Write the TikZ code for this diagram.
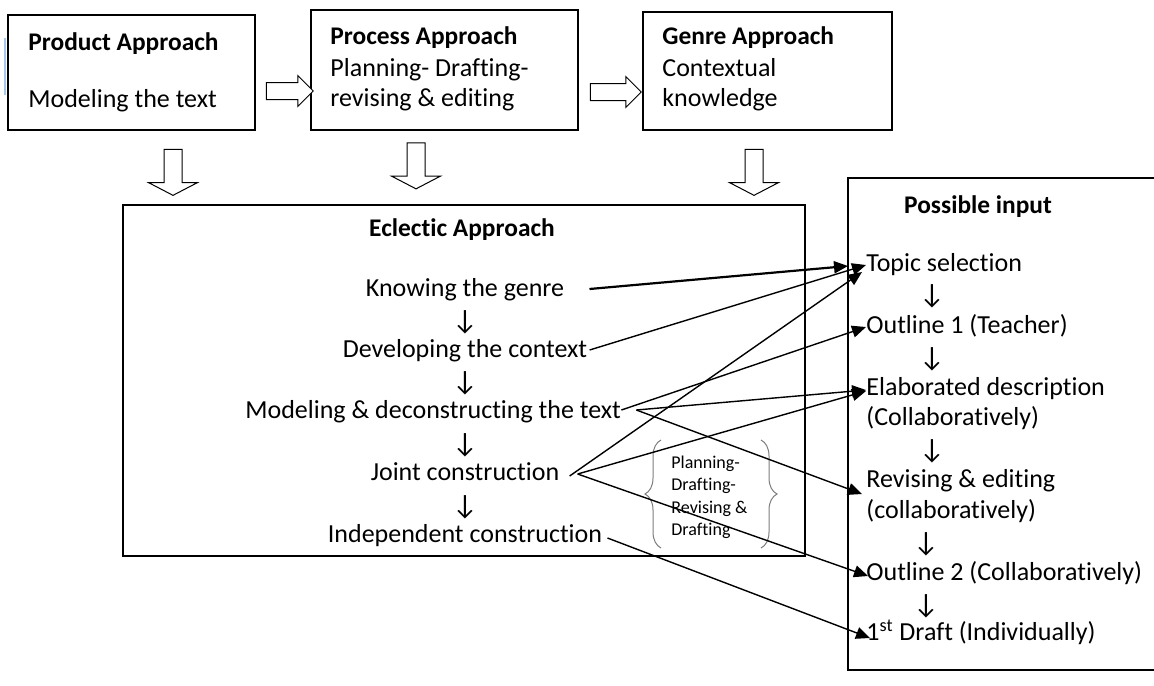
\documentclass[tikz,border=0pt]{standalone}
\usepackage{fontspec}
\setmainfont{Carlito}[Ligatures=CommonOff]
\usepackage{tikz}
\usetikzlibrary{arrows.meta,shapes.arrows,decorations.pathreplacing}
\definecolor{BraceGray}{RGB}{125,125,125}
\definecolor{MarkBlue}{RGB}{165,200,235}

\begin{document}
\begin{tikzpicture}[x=0.5pt,y=-0.5pt,>=Triangle,
  box/.style={draw,line width=0.6pt,inner sep=0pt},
  txt/.style={inner sep=0pt,anchor=base west,font=\fontsize{13}{15}\selectfont},
  ttl/.style={txt,font=\bfseries\fontsize{12.7}{14}\selectfont},
  small/.style={txt,font=\fontsize{9}{11}\selectfont},
  dn/.style={inner sep=0pt,font=\fontsize{14}{15}\selectfont},
  blk/.style={single arrow,draw,fill=white,line width=0.5pt,inner xsep=0pt},
  rightblk/.style={blk,inner ysep=4pt,minimum width=15pt,single arrow head extend=3.5pt},
  downblk/.style={blk,rotate=-90,inner ysep=4.25pt,minimum height=23pt,
    minimum width=24pt,single arrow head extend=7.75pt,single arrow tip angle=125},
  link/.style={-{Triangle[length=7pt,width=6pt]},line width=0.7pt},
  brc/.style={BraceGray,line width=0.5pt,decorate,decoration={brace,amplitude=8pt}}]
  \useasboundingbox (0,0) rectangle (1154,685);

  % three approaches on top
  \node[box,minimum width=123.5pt,minimum height=57.5pt] (prodbox) at (131.5,72.5) {};
  \node[box,minimum width=133.5pt,minimum height=60pt] (procbox) at (444.5,70) {};
  \node[box,minimum width=124.5pt,minimum height=59pt] (genrebox) at (767.5,71) {};
  \draw[MarkBlue,line width=1pt] (5,38) -- (5,95);

  \node[ttl] (prodtitle) at (28,50) {Product Approach};
  \node[txt] (prodtext) at (28,107) {Modeling the text};
  \node[ttl] (proctitle) at (330,44) {Process Approach};
  \node[txt] (proca) at (330,76) {Planning- Drafting-};
  \node[txt] (procb) at (330,106) {revising \& editing};
  \node[ttl] (genretitle) at (662,44) {Genre Approach};
  \node[txt] (genrea) at (662,76) {Contextual};
  \node[txt] (genreb) at (662,106) {knowledge};

  \node[rightblk,minimum height=23.5pt] (ba) at (285.5,91) {};
  \node[rightblk,minimum height=25.5pt] (bb) at (611.5,92) {};
  \node[downblk] (da) at (173,170) {};
  \node[downblk] (db) at (416,163.5) {};
  \node[downblk] (dc) at (754,170) {};

  % eclectic approach
  \node[box,minimum width=341pt,minimum height=175.5pt] (eclbox) at (464,380.5) {};
  \node[ttl,anchor=base] (ecltitle) at (462,236) {Eclectic Approach};
  \node[txt,anchor=base] (knowing) at (465,296) {Knowing the genre};
  \node[txt,anchor=base] (developing) at (465,357) {Developing the context};
  \node[txt] (modeling) at (245,418) {Modeling \& deconstructing the text};
  \node[txt,anchor=base] (joint) at (465,480) {Joint construction};
  \node[txt,anchor=base] (independent) at (465,542) {Independent construction};
  \foreach \y in {322,383,445,507}
    \node[dn] (ed\y) at (465,\y) {↓};

  % bracketed steps
  \draw[brc] (661,548) -- (661,440);
  \draw[brc] (761,440) -- (761,548);
  \node[small] (plana) at (671,468) {Planning-};
  \node[small] (planb) at (671,490) {Drafting-};
  \node[small] (planc) at (671,513) {Revising \&};
  \node[small] (pland) at (671,535) {Drafting};

  % possible input
  \node[box,minimum width=161pt,minimum height=246pt] (inbox) at (1009,424) {};
  \node[ttl,anchor=base] (intitle) at (978,213) {Possible input};
  \node[txt] (topic) at (866,271) {Topic selection};
  \node[txt] (outlinea) at (866,333) {Outline 1 (Teacher)};
  \node[txt] (elab) at (866,395) {Elaborated description};
  \node[txt] (elabb) at (866,425) {(Collaboratively)};
  \node[txt] (revising) at (866,487) {Revising \& editing};
  \node[txt] (revisingb) at (866,518) {(collaboratively)};
  \node[txt] (outlineb) at (866,580) {Outline 2 (Collaboratively)};
  \node[txt] (draft) at (866,640) {1\textsuperscript{st} Draft (Individually)};
  \foreach \y in {296,359,451}
    \node[dn] (ia\y) at (932,\y) {↓};
  \foreach \y in {544,606}
    \node[dn] (ib\y) at (926,\y) {↓};

  % links from the stages to the inputs
  \draw[link,line width=1.1pt] ([shift={(25,-7)}]knowing.base east) -- ([shift={(-18,-5)}]topic.base west);
  \draw[link] ([shift={(2,-7)}]developing.base east) -- ([shift={(0,-6)}]topic.base west);
  \draw[link] ([shift={(0,-8)}]modeling.base east) -- ([shift={(0,-6)}]outlinea.base west);
  \draw[link] ([shift={(15,-8)}]modeling.base east) -- ([shift={(0,-5)}]elab.base west);
  \draw[link] ([shift={(15,-8)}]modeling.base east) -- ([shift={(-4,7)}]revising.base west);
  \draw[link] ([shift={(10,-4)}]joint.base east) -- ([shift={(-4,1)}]topic.base west);
  \draw[link] ([shift={(18,-6)}]joint.base east) -- ([shift={(0,-4)}]elab.base west);
  \draw[link] ([shift={(18,-6)}]joint.base east) -- ([shift={(2,-4)}]outlineb.base west);
  \draw[link] ([shift={(5,-4)}]independent.base east) -- ([shift={(4,-2)}]draft.base west);
\end{tikzpicture}
\end{document}
